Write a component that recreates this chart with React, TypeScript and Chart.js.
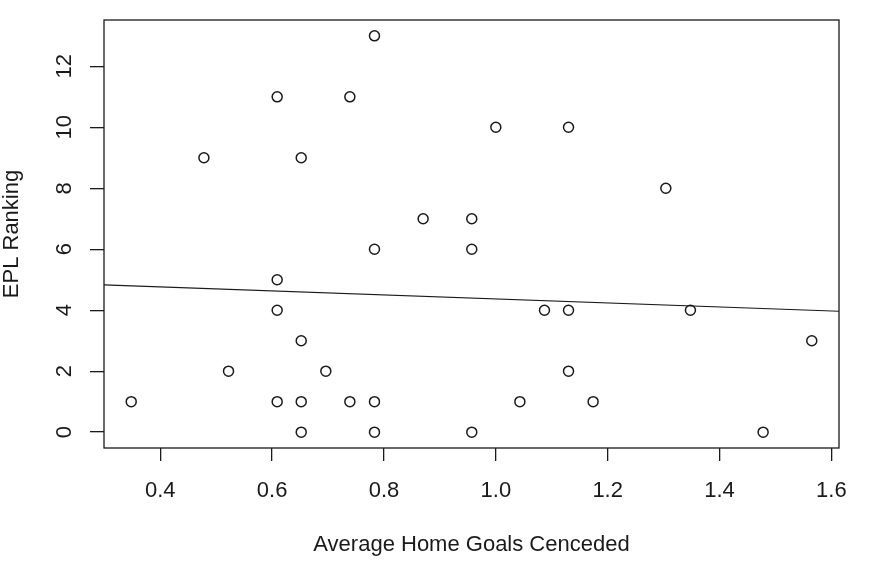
import React, { useRef, useEffect } from "react";
import Chart from "chart.js/auto";

// average home goals conceded per season (x) and EPL ranking (y)
const goalsConceded = [
  0.348, 0.478, 0.522, 0.609, 0.609, 0.609, 0.609, 0.652, 0.652, 0.652, 0.652,
  0.696, 0.739, 0.739, 0.783, 0.783, 0.783, 0.783, 0.87, 0.957, 0.957, 0.957,
  1.0, 1.043, 1.087, 1.13, 1.13, 1.13, 1.174, 1.304, 1.348, 1.478, 1.565,
];
const eplRanking = [
  1, 9, 2, 11, 5, 4, 1, 9, 3, 1, 0, 2, 11, 1, 13, 6, 1, 0, 7, 7, 6, 0, 10, 1, 4,
  10, 4, 2, 1, 8, 4, 0, 3,
];
const xTicks = [0.4, 0.6, 0.8, 1.0, 1.2, 1.4, 1.6];
const yTicks = [0, 2, 4, 6, 8, 10, 12];

const FONT = "'Liberation Sans', Arial, Helvetica, sans-serif";
const INK = "#1a1a1a";

// R-style axis range: data range widened by 4% on each side
const padRange = (vals: number[]) => {
  const lo = Math.min(...vals);
  const hi = Math.max(...vals);
  const r = hi - lo;
  return [lo - 0.04 * r, hi + 0.04 * r];
};

// least squares fit, like abline(lm(y ~ x))
const fitLine = (xs: number[], ys: number[]) => {
  const n = xs.length;
  const mx = xs.reduce((a, b) => a + b, 0) / n;
  const my = ys.reduce((a, b) => a + b, 0) / n;
  let sxy = 0;
  let sxx = 0;
  for (let i = 0; i < n; i++) {
    sxy += (xs[i] - mx) * (ys[i] - my);
    sxx += (xs[i] - mx) * (xs[i] - mx);
  }
  const slope = sxy / sxx;
  return { slope, intercept: my - slope * mx };
};

const boxPlugin = {
  id: "plotBox",
  afterDraw(chart: Chart) {
    const { ctx, chartArea } = chart;
    ctx.save();
    ctx.strokeStyle = INK;
    ctx.lineWidth = 1.3;
    ctx.strokeRect(
      chartArea.left,
      chartArea.top,
      chartArea.right - chartArea.left,
      chartArea.bottom - chartArea.top
    );
    ctx.restore();
  },
};

const App: React.FC = () => {
  const canvasRef = useRef<HTMLCanvasElement | null>(null);

  useEffect(() => {
    if (!canvasRef.current) return;
    const ctx = canvasRef.current.getContext("2d");
    if (!ctx) return;

    const [xMin, xMax] = padRange(goalsConceded);
    const [yMin, yMax] = padRange(eplRanking);
    const { slope, intercept } = fitLine(goalsConceded, eplRanking);

    const chart = new Chart(ctx, {
      type: "scatter",
      data: {
        datasets: [
          {
            type: "scatter",
            data: goalsConceded.map((x, i) => ({ x, y: eplRanking[i] })),
            pointStyle: "circle",
            pointRadius: 5,
            pointBorderWidth: 1.5,
            borderColor: INK,
            backgroundColor: "rgba(0,0,0,0)",
          },
          {
            type: "line",
            data: [
              { x: xMin, y: intercept + slope * xMin },
              { x: xMax, y: intercept + slope * xMax },
            ],
            borderColor: INK,
            borderWidth: 1.2,
            pointRadius: 0,
            fill: false,
          },
        ],
      },
      options: {
        animation: false,
        responsive: true,
        maintainAspectRatio: false,
        layout: {
          padding: { left: 0, top: 20, right: 37, bottom: 0 },
        },
        scales: {
          x: {
            type: "linear",
            min: xMin,
            max: xMax,
            afterBuildTicks: (scale) => {
              scale.ticks = xTicks.map((value) => ({ value }));
            },
            afterFit: (scale) => {
              scale.height = 123;
              scale.paddingLeft = 0;
              scale.paddingRight = 0;
            },
            border: { display: false },
            grid: {
              drawOnChartArea: false,
              drawTicks: true,
              tickLength: 13,
              color: INK,
              lineWidth: 1.3,
            },
            ticks: {
              autoSkip: false,
              maxRotation: 0,
              padding: 17,
              color: INK,
              font: { family: FONT, size: 22 },
              callback: (v) => Number(v).toFixed(1),
            },
            title: {
              display: true,
              text: "Average Home Goals Cenceded",
              color: INK,
              font: { family: FONT, size: 22 },
              padding: { top: 0, bottom: 13 },
            },
          },
          y: {
            type: "linear",
            min: yMin,
            max: yMax,
            afterBuildTicks: (scale) => {
              scale.ticks = yTicks.map((value) => ({ value }));
            },
            afterFit: (scale) => {
              scale.width = 104;
              scale.paddingTop = 0;
              scale.paddingBottom = 0;
            },
            border: { display: false },
            grid: {
              drawOnChartArea: false,
              drawTicks: true,
              tickLength: 14,
              color: INK,
              lineWidth: 1.3,
            },
            ticks: {
              autoSkip: false,
              minRotation: 90,
              maxRotation: 90,
              crossAlign: "center",
              padding: 13,
              color: INK,
              font: { family: FONT, size: 22 },
              callback: (v) => String(v),
            },
            title: {
              display: true,
              text: "EPL Ranking",
              color: INK,
              font: { family: FONT, size: 22, lineHeight: 1.1 },
              padding: { top: 0, bottom: 0 },
            },
          },
        },
        plugins: {
          legend: { display: false },
          tooltip: { enabled: false },
        },
      },
      plugins: [boxPlugin],
    });

    return () => {
      chart.destroy();
    };
  }, []);

  return (
    <div
      style={{
        position: "fixed",
        left: 0,
        top: 0,
        width: 876,
        height: 571,
        background: "#fff",
      }}
    >
      <canvas ref={canvasRef} />
    </div>
  );
};

export default App;
